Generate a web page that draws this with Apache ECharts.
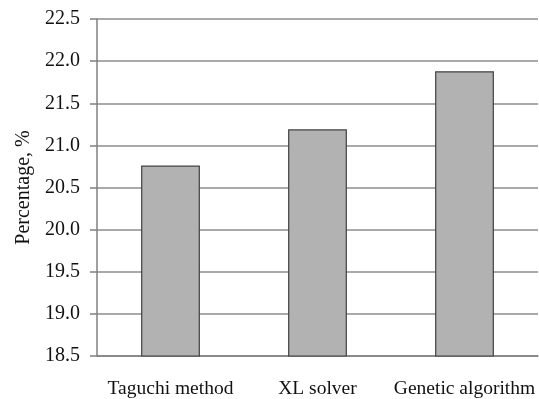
<!DOCTYPE html>
<html>
<head>
<meta charset="utf-8">
<script src="https://cdn.jsdelivr.net/npm/echarts@6/dist/echarts.min.js"></script>
<style>
html,body{margin:0;padding:0;background:#fff;}
#chart{width:539px;height:399px;}
</style>
</head>
<body>
<div id="chart"></div>
<script>
const categories = ['Taguchi method', 'XL solver', 'Genetic algorithm'];
const percentages = [20.76, 21.19, 21.88];
const yTicks = { min: 18.5, max: 22.5, step: 0.5 };
const yAxisTitle = 'Percentage, %';

const chart = echarts.init(document.getElementById('chart'), null, { renderer: 'canvas' });
const font = 'Liberation Serif';
chart.setOption({
  animation: false,
  backgroundColor: '#ffffff',
  grid: { left: 97, right: 1, top: 19, bottom: 43, containLabel: false },
  xAxis: {
    type: 'category',
    data: categories,
    axisLine: { show: true, lineStyle: { color: '#808080', width: 1.5 } },
    axisTick: { show: false },
    axisLabel: { color: '#111', fontFamily: font, fontSize: 19.5, margin: 23, interval: 0 },
    splitLine: { show: false }
  },
  yAxis: {
    type: 'value',
    min: yTicks.min,
    max: yTicks.max,
    interval: yTicks.step,
    name: yAxisTitle,
    nameLocation: 'middle',
    nameGap: 63,
    nameTextStyle: { color: '#111', fontFamily: font, fontSize: 20 },
    axisLine: { show: true, lineStyle: { color: '#808080', width: 1.5 } },
    axisTick: { show: true, length: 7, lineStyle: { color: '#808080', width: 1.5 } },
    axisLabel: { color: '#111', fontFamily: font, fontSize: 20, margin: 17,
      formatter: v => v.toFixed(1) },
    splitLine: { show: true, lineStyle: { color: '#8c8c8c', width: 1.5 } }
  },
  series: [{
    type: 'bar',
    data: percentages,
    barWidth: '40%',
    itemStyle: { color: '#b2b2b2', borderColor: '#404040', borderWidth: 1.2 }
  }]
});
</script>
</body>
</html>
